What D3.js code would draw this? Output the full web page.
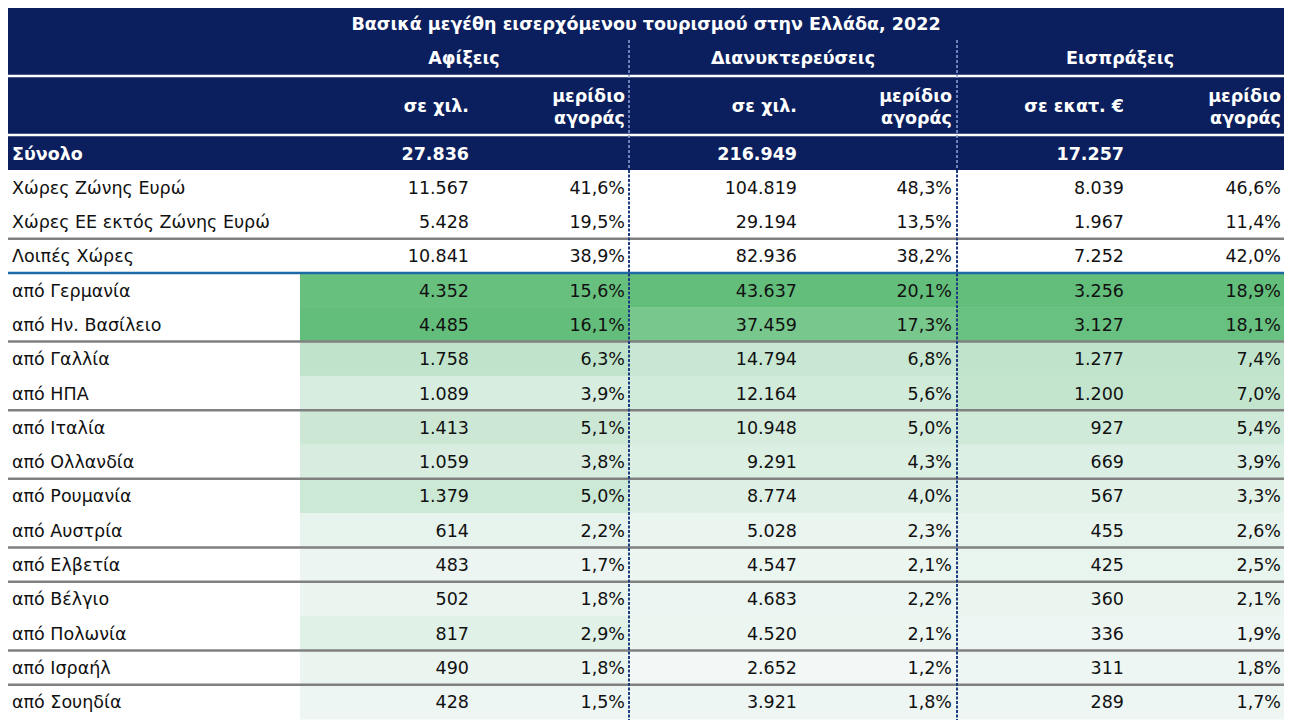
<!DOCTYPE html>
<html>
<head>
<meta charset="utf-8">
<script src="https://cdn.jsdelivr.net/npm/d3@7"></script>
<style>
  body { margin: 0; background: #fff; }
  svg { display: block; font-family: "DejaVu Sans", Verdana, sans-serif; }
</style>
</head>
<body>
<svg id="chart"></svg>
<script>
const width = 1292;
const height = 724;

// --- data ---
const title = "Βασικά μεγέθη εισερχόμενου τουρισμού στην Ελλάδα, 2022";
const metrics = ["Αφίξεις", "Διανυκτερεύσεις", "Εισπράξεις"];
const units = ["σε χιλ.", "σε χιλ.", "σε εκατ. €"];
const shareLabel = ["μερίδιο", "αγοράς"];
const totalLabel = "Σύνολο";
const totals = [27836, 216949, 17257];

const labels = [
  "Χώρες Ζώνης Ευρώ", "Χώρες ΕΕ εκτός Ζώνης Ευρώ", "Λοιπές Χώρες",
  "από Γερμανία", "από Ην. Βασίλειο", "από Γαλλία", "από ΗΠΑ",
  "από Ιταλία", "από Ολλανδία", "από Ρουμανία", "από Αυστρία",
  "από Ελβετία", "από Βέλγιο", "από Πολωνία", "από Ισραήλ", "από Σουηδία"
];
const arrivals = [11567, 5428, 10841, 4352, 4485, 1758, 1089, 1413, 1059, 1379, 614, 483, 502, 817, 490, 428];
const arrivalsShare = [41.6, 19.5, 38.9, 15.6, 16.1, 6.3, 3.9, 5.1, 3.8, 5.0, 2.2, 1.7, 1.8, 2.9, 1.8, 1.5];
const nights = [104819, 29194, 82936, 43637, 37459, 14794, 12164, 10948, 9291, 8774, 5028, 4547, 4683, 4520, 2652, 3921];
const nightsShare = [48.3, 13.5, 38.2, 20.1, 17.3, 6.8, 5.6, 5.0, 4.3, 4.0, 2.3, 2.1, 2.2, 2.1, 1.2, 1.8];
const receipts = [8039, 1967, 7252, 3256, 3127, 1277, 1200, 927, 669, 567, 455, 425, 360, 336, 311, 289];
const receiptsShare = [46.6, 11.4, 42.0, 18.9, 18.1, 7.4, 7.0, 5.4, 3.9, 3.3, 2.6, 2.5, 2.1, 1.9, 1.8, 1.7];

// rows that start a new group (gray rule above them); the blue rule sits above the first country
const groupStarts = ["Λοιπές Χώρες", "από Γαλλία", "από Ιταλία", "από Ρουμανία",
  "από Ελβετία", "από Βέλγιο", "από Ισραήλ", "από Σουηδία"];
const firstCountry = "από Γερμανία";

const values = [arrivals, nights, receipts];
const shares = [arrivalsShare, nightsShare, receiptsShare];

// --- layout ---
const left = 8, right = 1284;
const navy = "#0b1f5e";
const locale = d3.formatLocale({ decimal: ",", thousands: ".", grouping: [3], currency: ["", "€"] });
const fmtInt = locale.format(",d");
const fmtPct = v => locale.format(".1f")(v) + "%";

const svg = d3.select("#chart")
  .attr("width", width)
  .attr("height", height)
  .attr("viewBox", [0, 0, width, height]);

// column groups: colour band x0 (first one starts at 300), divider at x1
const groupX = d3.scaleOrdinal().domain(metrics).range([300, 629, 957]);
const groupEnd = d3.scaleOrdinal().domain(metrics).range([629, 957, right]);
const valueRight = d3.scaleOrdinal().domain(metrics).range([469, 797, 1124]);
const shareRight = d3.scaleOrdinal().domain(metrics).range([625, 952, 1281]);
const headCenter = d3.scaleOrdinal().domain(metrics).range([464, 793, 1120]);

const y = d3.scaleBand().domain(labels).range([170, 719]);

// header background
svg.append("rect")
  .attr("x", left).attr("y", 8)
  .attr("width", right - left).attr("height", 162)
  .attr("fill", navy);

// white rules inside header
[76, 135].forEach(yy => {
  svg.append("line")
    .attr("x1", left).attr("x2", right)
    .attr("y1", yy).attr("y2", yy)
    .attr("stroke", "#fff").attr("stroke-width", 2.5);
});

const head = svg.append("g")
  .attr("fill", "#fff")
  .style("font-weight", "bold")
  .style("font-size", "17.5px");

head.append("text")
  .attr("x", (left + right) / 2).attr("y", 30)
  .attr("text-anchor", "middle")
  .text(title);

head.selectAll(".metric")
  .data(metrics)
  .join("text")
  .attr("x", d => headCenter(d)).attr("y", 64)
  .attr("text-anchor", "middle")
  .text(d => d);

head.selectAll(".unit")
  .data(metrics)
  .join("text")
  .attr("x", d => valueRight(d)).attr("y", 112)
  .attr("text-anchor", "end")
  .text((d, i) => units[i]);

metrics.forEach(m => {
  shareLabel.forEach((s, j) => {
    head.append("text")
      .attr("x", shareRight(m)).attr("y", 102 + j * 22)
      .attr("text-anchor", "end")
      .text(s);
  });
});

head.append("text")
  .attr("x", 12).attr("y", 160)
  .text(totalLabel);

head.selectAll(".total")
  .data(totals)
  .join("text")
  .attr("x", (d, i) => valueRight(metrics[i])).attr("y", 160)
  .attr("text-anchor", "end")
  .text(d => fmtInt(d));

// heat colour cells for the country rows
const countries = labels.slice(labels.indexOf(firstCountry));
metrics.forEach((m, k) => {
  const sh = shares[k];
  const cs = countries.map(c => sh[labels.indexOf(c)]);
  const color = d3.scaleLinear()
    .domain([0, d3.max(cs)])
    .range(["#fcfcff", "#63be7b"]);
  svg.append("g")
    .selectAll("rect")
    .data(countries)
    .join("rect")
    .attr("x", groupX(m))
    .attr("y", d => y(d))
    .attr("width", groupEnd(m) - groupX(m))
    .attr("height", y.bandwidth() + 0.5)
    .attr("fill", d => color(sh[labels.indexOf(d)]));
});

// body text
const body = svg.append("g")
  .attr("fill", "#111")
  .style("font-size", "17.5px");

body.selectAll(".label")
  .data(labels)
  .join("text")
  .attr("x", 12)
  .attr("y", d => y(d) + y.bandwidth() / 2 + 6.5)
  .text(d => d);

metrics.forEach((m, k) => {
  body.append("g")
    .selectAll("text")
    .data(labels)
    .join("text")
    .attr("x", valueRight(m))
    .attr("y", d => y(d) + y.bandwidth() / 2 + 6.5)
    .attr("text-anchor", "end")
    .text((d, i) => fmtInt(values[k][i]));
  body.append("g")
    .selectAll("text")
    .data(labels)
    .join("text")
    .attr("x", shareRight(m))
    .attr("y", d => y(d) + y.bandwidth() / 2 + 6.5)
    .attr("text-anchor", "end")
    .text((d, i) => fmtPct(shares[k][i]));
});

// horizontal rules
svg.append("g")
  .selectAll("line")
  .data(groupStarts)
  .join("line")
  .attr("x1", left).attr("x2", right)
  .attr("y1", d => y(d)).attr("y2", d => y(d))
  .attr("stroke", "#808080").attr("stroke-width", 2.5);

svg.append("line")
  .attr("x1", left).attr("x2", right)
  .attr("y1", y(firstCountry)).attr("y2", y(firstCountry))
  .attr("stroke", "#1d6aa5").attr("stroke-width", 2.5);

// dashed dividers between metric groups
metrics.slice(0, 2).forEach(m => {
  const x = groupEnd(m);
  svg.append("line")
    .attr("x1", x).attr("x2", x)
    .attr("y1", 40).attr("y2", 170)
    .attr("stroke", "#8ea3d4").attr("stroke-width", 1.5)
    .attr("stroke-dasharray", "3,2");
  svg.append("line")
    .attr("x1", x).attr("x2", x)
    .attr("y1", 170).attr("y2", 720)
    .attr("stroke", "#1e3c82").attr("stroke-width", 2)
    .attr("stroke-dasharray", "3,1.5");
});
</script>
</body>
</html>
